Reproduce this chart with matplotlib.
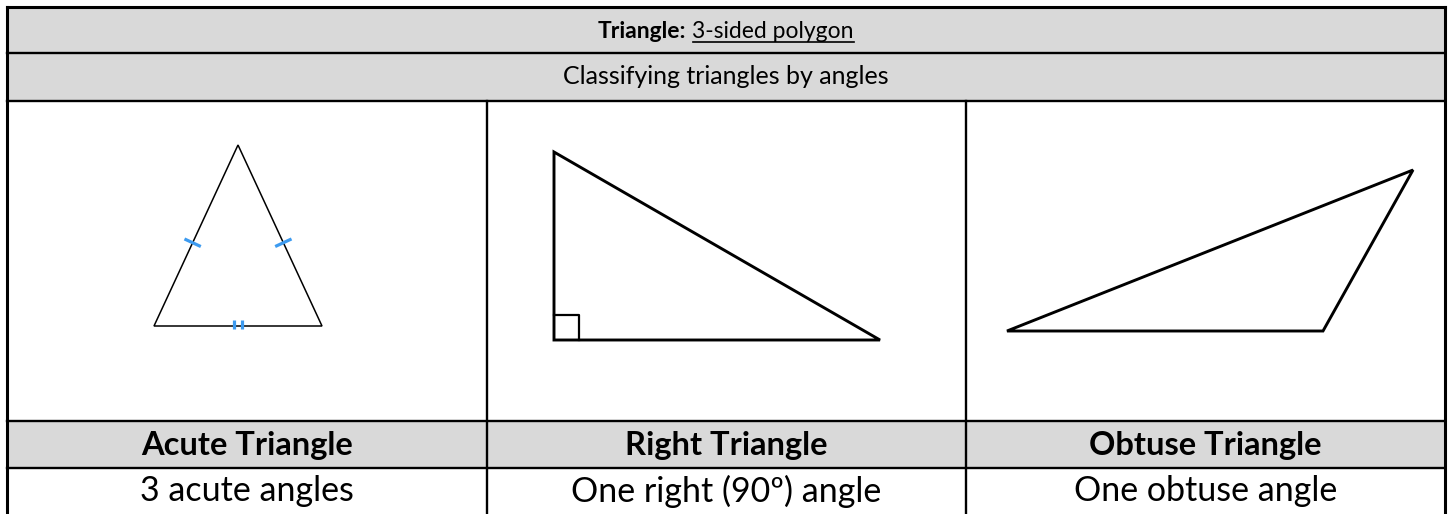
import matplotlib.pyplot as plt
from matplotlib.patches import Rectangle, Polygon
import numpy as np

plt.rcParams['font.family'] = ['Lato', 'DejaVu Sans']

# table text
title_bold = 'Triangle:'
title_rest = '3-sided polygon'
subtitle = 'Classifying triangles by angles'
names = ['Acute Triangle', 'Right Triangle', 'Obtuse Triangle']
descriptions = ['3 acute angles', 'One right (90\u00ba) angle', 'One obtuse angle']

# triangle vertices (pixel coords, y down)
acute_x = [154, 238, 322]
acute_y = [326, 145, 326]
right_x = [554, 554, 880]
right_y = [152, 340, 340]
obtuse_x = [1007, 1413, 1323]
obtuse_y = [331, 170, 331]

W, H = 1449, 514
fig = plt.figure(figsize=(W / 100, H / 100), dpi=100)
ax = fig.add_axes([0, 0, 1, 1])
ax.set_xlim(0, W)
ax.set_ylim(H, 0)
ax.axis('off')

grey = '#d9d9d9'
cols = [7, 487, 966, 1445]
rows = [7, 53, 101, 421, 468, 520]
xc = (cols[0] + cols[-1]) / 2

# shaded rows
ax.add_patch(Rectangle((cols[0], rows[0]), cols[-1] - cols[0], rows[2] - rows[0], fc=grey, ec='none'))
ax.add_patch(Rectangle((cols[0], rows[3]), cols[-1] - cols[0], rows[4] - rows[3], fc=grey, ec='none'))

# grid
ax.plot([cols[0], cols[-1]], [rows[0], rows[0]], color='k', lw=2.2, solid_capstyle='projecting')
for r in rows[1:5]:
    ax.plot([cols[0], cols[-1]], [r, r], color='k', lw=1.7)
for c in [cols[0], cols[-1]]:
    ax.plot([c, c], [rows[0], rows[-1]], color='k', lw=2.2, solid_capstyle='projecting')
for c in cols[1:3]:
    ax.plot([c, c], [rows[2], rows[-1]], color='k', lw=1.7)

# title: bold part + underlined part
ty = 38
tb = ax.text(0, ty, title_bold, weight='bold', size=16.5, va='baseline', ha='left')
tr = ax.text(0, ty, title_rest, size=16.5, va='baseline', ha='left')
fig.canvas.draw()
rend = fig.canvas.get_renderer()
wb = tb.get_window_extent(rend).width
wr = tr.get_window_extent(rend).width
gap = 6
x0 = xc - (wb + gap + wr) / 2
tb.set_x(x0)
tr.set_x(x0 + wb + gap)
ax.plot([x0 + wb + gap, x0 + wb + gap + wr], [ty + 4, ty + 4], color='k', lw=1.2)

ax.text(xc, (rows[1] + rows[2]) / 2, subtitle, size=18, ha='center', va='center')

for i in range(3):
    cx = (cols[i] + cols[i + 1]) / 2
    ax.text(cx, (rows[3] + rows[4]) / 2 + 1, names[i], size=23.5, weight='bold', ha='center', va='center')
    ax.text(cx, (rows[4] + H) / 2, descriptions[i], size=24.5, ha='center', va='center')

# triangles
ax.add_patch(Polygon(np.column_stack([acute_x, acute_y]), closed=True, fill=False, ec='k', lw=1.1))
ax.add_patch(Polygon(np.column_stack([right_x, right_y]), closed=True, fill=False, ec='k', lw=2.1, joinstyle='miter'))
ax.add_patch(Polygon(np.column_stack([obtuse_x, obtuse_y]), closed=True, fill=False, ec='k', lw=2.1, joinstyle='miter'))

# right angle box
box = 25
ax.plot([right_x[1], right_x[1] + box, right_x[1] + box], [right_y[1] - box, right_y[1] - box, right_y[1]], color='k', lw=1.6)

# equal-side tick marks on acute triangle
blue = '#3d9bf0'
for k in (0, 2):
    t = 0.54
    px = acute_x[1] + t * (acute_x[k] - acute_x[1])
    py = acute_y[1] + t * (acute_y[k] - acute_y[1])
    dx, dy = acute_x[k] - acute_x[1], acute_y[k] - acute_y[1]
    n = np.hypot(dx, dy)
    nx, ny = -dy / n, dx / n
    ax.plot([px - 9 * nx, px + 9 * nx], [py - 9 * ny, py + 9 * ny], color=blue, lw=2.3, solid_capstyle='butt')
bx = (acute_x[0] + acute_x[2]) / 2
for off in (-4, 4):
    ax.plot([bx + off, bx + off], [acute_y[0] - 6, acute_y[0] + 3], color=blue, lw=2.3, solid_capstyle='butt')

fig.savefig('out.png', dpi=100)
